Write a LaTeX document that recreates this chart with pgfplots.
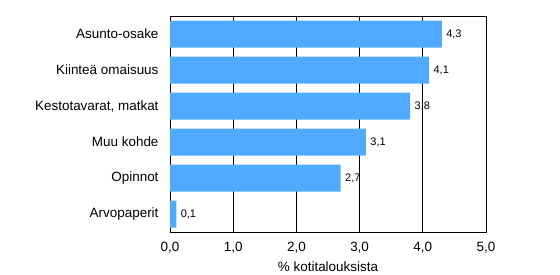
\documentclass[border=0pt]{standalone}
\usepackage{pgfplots}
\pgfplotsset{compat=1.18}
\usepackage{fontspec}
\setmainfont{Liberation Sans}
\definecolor{barblue}{RGB}{80,170,255}
\begin{document}
\begin{tikzpicture}
\path[use as bounding box] (0,0) rectangle (560bp,275bp);
\begin{axis}[
  at={(170bp,43bp)}, anchor=south west,
  scale only axis, width=316bp, height=216bp,
  xbar, bar width=0.75,
  xmin=0, xmax=5, ymin=-0.5, ymax=5.5,
  xtick={0,1,2,3,4,5},
  ytick={0,1,2,3,4,5},
  yticklabels={Arvopaperit,Opinnot,Muu kohde,{Kestotavarat, matkat},Kiinteä omaisuus,Asunto-osake},
  xmajorgrids, grid style={black, line width=0.8pt},
  axis line style={black, line width=0.8pt},
  major tick length=0pt,
  /pgf/number format/assume math mode=true,
  /pgf/number format/use comma,
  /pgf/number format/fixed,
  /pgf/number format/fixed zerofill,
  /pgf/number format/precision=1,
  xticklabel style={font=\fontsize{13.5}{15}\selectfont, yshift=-7bp},
  yticklabel style={font=\fontsize{13.5}{15}\selectfont, xshift=-8bp},
  xlabel={\% kotitalouksista},
  xlabel style={font=\fontsize{13.5}{15}\selectfont, yshift=-1bp},
  nodes near coords,
  nodes near coords style={font=\fontsize{11}{12}\selectfont, black, xshift=1bp},
]
\addplot[fill=barblue, draw=none] coordinates {
  (0.1,0) (2.7,1) (3.1,2) (3.8,3) (4.1,4) (4.3,5)
};
\end{axis}
\end{tikzpicture}
\end{document}
